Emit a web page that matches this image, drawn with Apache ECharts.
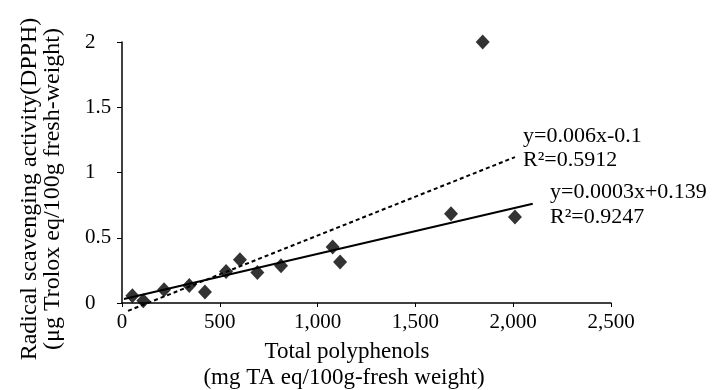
<!DOCTYPE html>
<html>
<head>
<meta charset="utf-8">
<script src="https://cdn.jsdelivr.net/npm/echarts@6/dist/echarts.min.js"></script>
<style>
  html, body { margin: 0; padding: 0; background: #fff; }
  #chart { width: 717px; height: 390px; }
</style>
</head>
<body>
<div id="chart"></div>
<script>
  // measured points: total polyphenols vs DPPH activity
  let polyphenols = [53, 109, 215, 344, 424, 532, 603, 692, 813, 1077, 1115, 1682, 1844, 2009]
  let dpph = [0.056, 0.018, 0.102, 0.135, 0.084, 0.242, 0.332, 0.234, 0.286, 0.429, 0.314, 0.684, 2.0, 0.659]
  // trend line end points
  let solidTrend = [[10, 0.03], [2100, 0.76]]
  let dashedTrend = [[31, -0.06], [2009, 1.118]]
  let xTickLabels = ['0', '500', '1,000', '1,500', '2,000', '2,500']
  let yTickLabels = ['0', '0.5', '1', '1.5', '2']

  let serif = '"Liberation Serif", "Times New Roman", serif'
  let myChart = echarts.init(document.getElementById('chart'))

  let option = {
    backgroundColor: '#fff',
    animation: false,
    grid: {
      left: 122,
      right: 106,
      top: 42,
      bottom: 87
    },
    xAxis: {
      type: 'value',
      min: 0,
      max: 2500,
      interval: 500,
      axisLine: { lineStyle: { color: '#000', width: 1.5 } },
      axisTick: { length: 4, lineStyle: { color: '#000' } },
      splitLine: { show: false },
      axisLabel: {
        margin: 9,
        color: '#000',
        fontFamily: serif,
        fontSize: 21,
        formatter: function (v) { return xTickLabels[Math.round(v / 500)] }
      }
    },
    yAxis: {
      type: 'value',
      min: 0,
      max: 2,
      interval: 0.5,
      axisLine: { lineStyle: { color: '#000', width: 1.5 } },
      axisTick: { length: 5, lineStyle: { color: '#000' } },
      splitLine: { show: false },
      axisLabel: {
        margin: 37,
        align: 'left',
        color: '#000',
        fontFamily: serif,
        fontSize: 21,
        formatter: function (v) { return yTickLabels[Math.round(v / 0.5)] }
      }
    },
    graphic: [
      {
        type: 'text',
        x: 30, y: 189,
        rotation: Math.PI / 2,
        style: {
          text: 'Radical scavenging activity(DPPH)',
          font: '24px ' + serif,
          fill: '#000',
          textAlign: 'center',
          textVerticalAlign: 'middle'
        }
      },
      {
        type: 'text',
        x: 53, y: 189,
        rotation: Math.PI / 2,
        style: {
          text: '(μg Trolox eq/100g fresh-weight)',
          font: '24px ' + serif,
          fill: '#000',
          textAlign: 'center',
          textVerticalAlign: 'middle'
        }
      },
      {
        type: 'text',
        x: 347, y: 352,
        style: {
          text: 'Total polyphenols',
          font: '23px ' + serif,
          fill: '#000',
          textAlign: 'center',
          textVerticalAlign: 'middle'
        }
      },
      {
        type: 'text',
        x: 344, y: 378,
        style: {
          text: '(mg TA eq/100g-fresh weight)',
          font: '23px ' + serif,
          fill: '#000',
          textAlign: 'center',
          textVerticalAlign: 'middle'
        }
      },
      {
        type: 'text',
        x: 523, y: 136,
        style: { text: 'y=0.006x-0.1', font: '22px ' + serif, fill: '#000', textVerticalAlign: 'middle' }
      },
      {
        type: 'text',
        x: 523, y: 160,
        style: { text: 'R²=0.5912', font: '22px ' + serif, fill: '#000', textVerticalAlign: 'middle' }
      },
      {
        type: 'text',
        x: 550, y: 192,
        style: { text: 'y=0.0003x+0.139', font: '22px ' + serif, fill: '#000', textVerticalAlign: 'middle' }
      },
      {
        type: 'text',
        x: 550, y: 217,
        style: { text: 'R²=0.9247', font: '22px ' + serif, fill: '#000', textVerticalAlign: 'middle' }
      }
    ],
    series: [
      {
        type: 'line',
        data: dashedTrend,
        symbol: 'none',
        clip: false,
        lineStyle: { color: '#000', width: 2, type: [4, 3] },
        z: 2
      },
      {
        type: 'line',
        data: solidTrend,
        symbol: 'none',
        clip: false,
        lineStyle: { color: '#000', width: 2 },
        z: 2
      },
      {
        type: 'scatter',
        data: polyphenols.map(function (x, i) { return [x, dpph[i]] }),
        symbol: 'diamond',
        symbolSize: [14, 15],
        itemStyle: { color: '#000' },
        z: 3
      }
    ]
  }
  myChart.setOption(option)
</script>
</body>
</html>
